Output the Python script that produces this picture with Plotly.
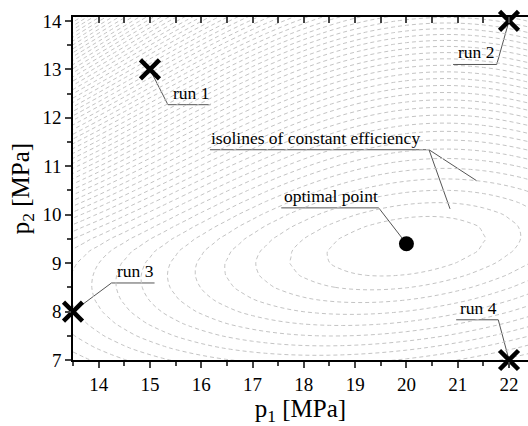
import numpy as np
import plotly.graph_objects as go

# ---- data ----
run_labels = ["run 1", "run 2", "run 3", "run 4"]
run_p1 = [15.0, 22.0, 13.5, 22.0]
run_p2 = [13.0, 14.0, 8.0, 7.0]
opt_p1 = [20.0]
opt_p2 = [9.4]
x_tick_vals = [14, 15, 16, 17, 18, 19, 20, 21, 22]
y_tick_vals = [7, 8, 9, 10, 11, 12, 13, 14]

# efficiency-loss surface estimated from the isolines of the reference
iso_center = (20.0, 9.35)
iso_a, iso_h, iso_c = 0.45, -0.35, 2.9
iso_skew = 0.35
iso_lin = 7.2
iso_step = 4.5
grid_p1 = np.arange(13.5, 22.76, 0.25)
grid_p2 = np.arange(6.75, 14.51, 0.25)

U, V = np.meshgrid(grid_p1 - iso_center[0], grid_p2 - iso_center[1])
Q = iso_a * U**2 + 2 * iso_h * U * V + iso_c * V**2
Q = Q + iso_skew * U**2 * (V + np.sqrt(V**2 + 0.1)) / 2 * (1 - np.exp(-Q / 9))
R = np.sqrt(Q)
F = R**2 + iso_lin * R

# ---- label layout (data coordinates) ----
# (label, marker x, marker y, elbow x, elbow y, underline other end x, text x)
FONT = "Liberation Serif"
LABEL_SIZE = 17.5
labels = [
    (run_labels[0], run_p1[0], run_p2[0], 15.35, 12.27, 16.18, 15.42),
    (run_labels[1], run_p1[1], run_p2[1], 21.76, 13.10, 20.91, 20.97),
    (run_labels[2], run_p1[2], run_p2[2], 14.25, 8.59, 15.09, 14.31),
    (run_labels[3], run_p1[3], run_p2[3], 21.79, 7.83, 20.97, 21.0),
    ("optimal point", opt_p1[0], opt_p2[0], 19.46, 10.14, 17.56, 17.57),
]

fig = go.Figure()

fig.add_trace(go.Contour(
    x=grid_p1, y=grid_p2, z=F,
    contours=dict(start=1 + iso_lin, end=600, size=iso_step, coloring="lines",
                  showlabels=False),
    colorscale=[[0, "#c4c4c4"], [1, "#c4c4c4"]],
    line=dict(width=1, dash="4px,3px"),
    showscale=False, hoverinfo="skip",
))

fig.add_trace(go.Scatter(
    x=run_p1, y=run_p2, mode="markers",
    marker=dict(symbol="x-thin", size=19, color="black",
                line=dict(width=4.5, color="black")),
    cliponaxis=False, showlegend=False, hoverinfo="skip",
))
fig.add_trace(go.Scatter(
    x=opt_p1, y=opt_p2, mode="markers",
    marker=dict(symbol="circle", size=15, color="black"),
    cliponaxis=False, showlegend=False, hoverinfo="skip",
))
# dummy trace for the top axis
fig.add_trace(go.Scatter(x=[None], y=[None], xaxis="x2", showlegend=False,
                         hoverinfo="skip"))

shapes = []
annotations = []
for text, mx, my, ex, ey, ux, tx in labels:
    shapes.append(dict(type="path", xref="x", yref="y", layer="below",
                       path=f"M {mx},{my} L {ex},{ey} L {ux},{ey}",
                       line=dict(color="#555555", width=1)))
    annotations.append(dict(x=tx, y=ey, xref="x", yref="y", text=text,
                            showarrow=False, xanchor="left", yanchor="bottom",
                            font=dict(family=FONT, size=LABEL_SIZE, color="black")))

# isolines label with two leaders
iso_elbow = (20.44, 11.34)
shapes.append(dict(type="path", xref="x", yref="y", layer="below",
                   path=f"M 16.17,{iso_elbow[1]} L {iso_elbow[0]},{iso_elbow[1]} L 21.37,10.70",
                   line=dict(color="#555555", width=1)))
shapes.append(dict(type="path", xref="x", yref="y", layer="below",
                   path=f"M {iso_elbow[0]},{iso_elbow[1]} L 20.85,10.12",
                   line=dict(color="#555555", width=1)))
annotations.append(dict(x=16.15, y=iso_elbow[1], xref="x", yref="y",
                        text="isolines of constant efficiency",
                        showarrow=False, xanchor="left", yanchor="bottom",
                        font=dict(family=FONT, size=LABEL_SIZE, color="black")))

xr = [13.5, 22.37]
fig.update_layout(
    width=528, height=426,
    margin=dict(l=73, r=0, t=17, b=66),
    plot_bgcolor="white", paper_bgcolor="white",
    font=dict(family=FONT, size=19, color="black"),
    shapes=shapes, annotations=annotations,
    xaxis=dict(range=xr, tickvals=x_tick_vals, ticks="outside", ticklen=6,
               tickwidth=1.5, showline=True, linecolor="black", linewidth=1.5,
               showgrid=False, zeroline=False,
               minor=dict(dtick=0.5, tick0=13.5, ticks="outside", ticklen=4, tickwidth=1.5),
               tickfont=dict(family=FONT, size=19),
               title=dict(text="p<sub>1</sub> [MPa]", font=dict(family=FONT, size=25),
                          standoff=6)),
    xaxis2=dict(range=xr, overlaying="x", side="top", tickvals=x_tick_vals,
                ticks="inside", ticklen=6, tickwidth=1.5, showticklabels=False,
                showline=True, linecolor="black", linewidth=1.5, showgrid=False,
                zeroline=False,
                minor=dict(dtick=0.5, tick0=13.5, ticks="inside", ticklen=6, tickwidth=1.5)),
    yaxis=dict(range=[7, 14.08], tickvals=y_tick_vals, ticks="outside", ticklen=6,
               tickwidth=1.5, showline=True, linecolor="black", linewidth=1.5,
               showgrid=False, zeroline=False,
               minor=dict(dtick=0.5, tick0=7, ticks="outside", ticklen=4, tickwidth=1.5),
               tickfont=dict(family=FONT, size=19),
               title=dict(text="p<sub>2</sub> [MPa]", font=dict(family=FONT, size=25),
                          standoff=6)),
)

fig.write_html("out.html")
